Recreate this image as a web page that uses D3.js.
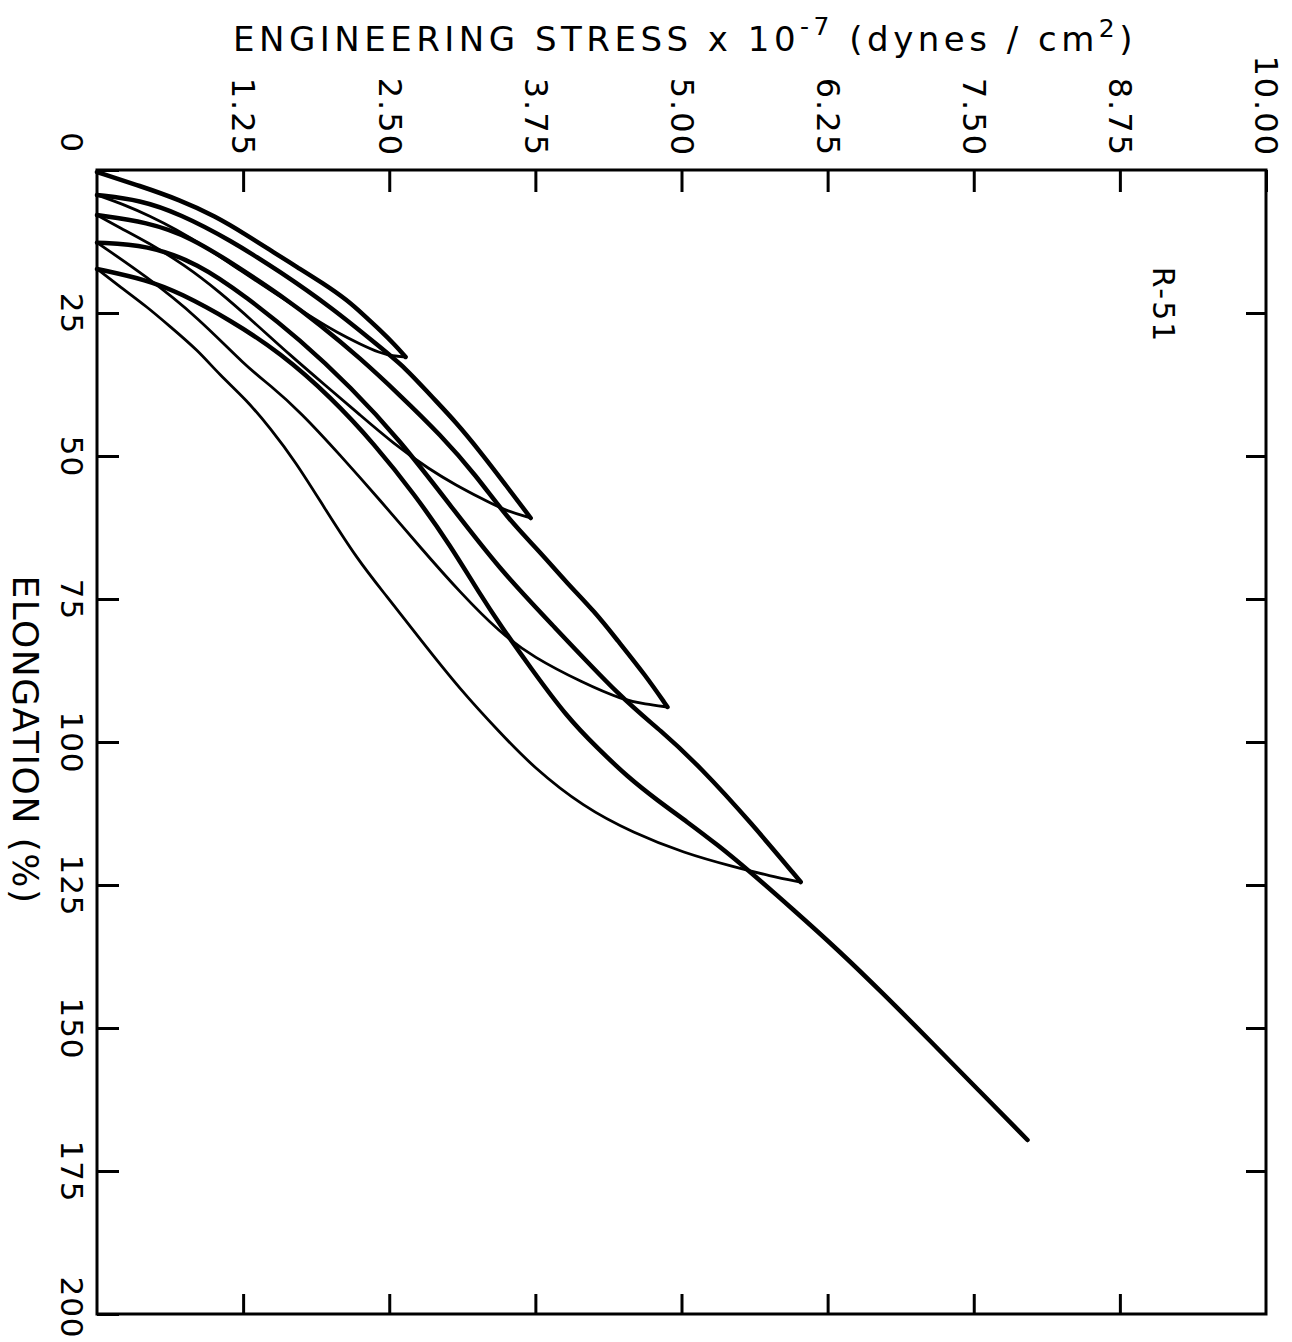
<!DOCTYPE html>
<html>
<head>
<meta charset="utf-8">
<script src="https://cdn.jsdelivr.net/npm/d3@7"></script>
<style>
  body { margin: 0; background: #fff; }
  text { font-family: "DejaVu Sans", sans-serif; fill: #000; }
</style>
</head>
<body>
<div id="chart"></div>
<script>
// tick values / labels
const stressTicks = [1.25, 2.5, 3.75, 5, 6.25, 7.5, 8.75, 10];
const stressLabels = ["1.25", "2.50", "3.75", "5.00", "6.25", "7.50", "8.75", "10.00"];
const elongTicks = [0, 25, 50, 75, 100, 125, 150, 175, 200];

// [stress x 1e-7, elongation %]
const load1 = [[0,0.35],[0.37,2.8],[0.71,5.24],[1.01,8.04],[1.28,11.36],[1.52,14.51],[1.71,16.96],[1.93,19.76],[2.14,22.73],[2.29,25.52],[2.42,27.97],[2.55,30.59],[2.64,32.69]];
const unload1 = [[2.64,32.69],[2.53,32.52],[2.42,31.99],[2.25,30.42],[2.06,28.5],[1.82,25.52],[1.57,22.2],[1.22,17.48],[0.93,13.46],[0.67,10.31],[0.45,8.04],[0.24,6.12],[0,4.37]];
const load2 = [[0,4.37],[0.37,5.24],[0.71,7.69],[1.14,12.24],[1.57,17.83],[2.00,23.95],[2.42,30.94],[2.64,34.62],[2.85,39.34],[3.07,44.06],[3.28,49.30],[3.49,54.90],[3.71,60.84]];
const unload2 = [[3.71,60.84],[3.48,59.44],[3.28,57.34],[3.07,55.07],[2.85,52.45],[2.53,47.73],[2.25,42.83],[1.95,37.59],[1.65,32.34],[1.35,26.75],[1.05,21.33],[0.75,16.61],[0.43,12.59],[0.20,10.14],[0,7.87]];
const load3 = [[0,7.87],[0.43,9.09],[0.80,11.71],[1.22,17.13],[1.57,21.85],[1.91,27.10],[2.25,32.87],[2.59,39.34],[2.94,46.33],[3.24,53.32],[3.51,60.84],[3.79,66.78],[4.02,72.20],[4.26,77.27],[4.45,82.17],[4.69,88.29],[4.88,93.88]];
const unload3 = [[4.88,93.88],[4.69,93.36],[4.50,92.66],[4.16,89.69],[3.73,85.14],[3.45,80.94],[3.11,73.95],[2.77,66.08],[2.42,57.69],[2.08,49.83],[1.74,42.31],[1.48,37.59],[1.28,34.44],[0.86,25.70],[0.43,18.71],[0,12.7]];
const load4 = [[0,12.7],[0.43,13.11],[0.86,16.26],[1.28,22.20],[1.74,29.72],[2.17,37.94],[2.59,47.20],[3.02,58.57],[3.45,69.93],[3.88,79.20],[4.50,92.66],[4.82,97.90],[5.16,104.37],[5.59,113.99],[6.02,124.48]];
const unload4 = [[6.02,124.48],[5.76,123.43],[5.45,121.85],[5.02,119.41],[4.59,115.91],[4.16,111.36],[3.73,104.37],[3.45,98.43],[3.11,90.91],[2.77,82.17],[2.47,74.30],[2.23,68.18],[1.93,58.57],[1.70,51.05],[1.48,45.10],[1.28,40.21],[1.05,35.84],[0.86,31.47],[0.63,27.45],[0.43,23.95],[0.20,20.45],[0,17.3]];
const load5 = [[0,17.3],[0.43,19.23],[0.71,21.50],[1.14,26.22],[1.57,31.99],[2.00,39.69],[2.38,48.08],[2.72,56.82],[3.02,65.56],[3.28,74.30],[3.45,79.55],[3.71,87.06],[4.02,95.63],[4.28,101.05],[4.54,106.12],[4.79,110.14],[5.05,113.99],[5.31,118.01],[5.57,122.38],[5.96,129.37],[6.34,136.36],[6.72,143.88],[7.12,152.10],[7.54,160.84],[7.96,169.58]];

const loading = [load1, load2, load3, load4, load5];
const unloading = [unload1, unload2, unload3, unload4];

const W = 1292, H = 1342;

const svg = d3.select("#chart")
  .append("svg")
  .attr("width", W)
  .attr("height", H);

const x = d3.scaleLinear().domain([0, 10]).range([97, 1266]);
const y = d3.scaleLinear().domain([0, 200]).range([170, 1314]);

// frame
svg.append("rect")
  .attr("x", x(0)).attr("y", y(0))
  .attr("width", x(10) - x(0)).attr("height", y(200) - y(0))
  .attr("fill", "none").attr("stroke", "#000").attr("stroke-width", 3);

// top axis with rotated labels
const topAxis = svg.append("g")
  .attr("transform", `translate(0, ${y(0)})`)
  .call(d3.axisTop(x).tickValues(stressTicks).tickSize(-22)
    .tickFormat((d, i) => stressLabels[i]));
topAxis.select(".domain").remove();
topAxis.selectAll("line").attr("stroke-width", 3);
topAxis.selectAll("text")
  .attr("transform", "rotate(90)")
  .attr("x", -13).attr("y", 0).attr("dy", "0.35em")
  .attr("text-anchor", "end")
  .style("font-size", "32px")
  .style("letter-spacing", "2px");

// bottom axis, ticks only
const botAxis = svg.append("g")
  .attr("transform", `translate(0, ${y(200)})`)
  .call(d3.axisBottom(x).tickValues(stressTicks.slice(0, -1)).tickSize(-20).tickFormat(""));
botAxis.select(".domain").remove();
botAxis.selectAll("line").attr("stroke-width", 3);

// left axis with rotated labels
const leftAxis = svg.append("g")
  .attr("transform", `translate(${x(0)}, 0)`)
  .call(d3.axisLeft(y).tickValues(elongTicks).tickSize(-22).tickFormat(d3.format("d")));
leftAxis.select(".domain").remove();
leftAxis.selectAll("line").attr("stroke-width", 3);
leftAxis.selectAll("text")
  .attr("transform", "rotate(90)")
  .attr("x", d => d === 0 ? -28 : d === 200 ? -7 : 0)
  .attr("y", 25).attr("dy", "0.35em")
  .attr("text-anchor", "middle")
  .style("font-size", "31px")
  .style("letter-spacing", "1px");

// right axis, ticks only
const rightAxis = svg.append("g")
  .attr("transform", `translate(${x(10)}, 0)`)
  .call(d3.axisRight(y).tickValues(elongTicks.slice(1, -1)).tickSize(-20).tickFormat(""));
rightAxis.select(".domain").remove();
rightAxis.selectAll("line").attr("stroke-width", 3);

// curves
const line = d3.line()
  .x(d => x(d[0]))
  .y(d => y(d[1]))
  .curve(d3.curveBasis);

svg.selectAll(".unload")
  .data(unloading)
  .join("path")
  .attr("class", "unload")
  .attr("d", line)
  .attr("fill", "none")
  .attr("stroke", "#000")
  .attr("stroke-width", 2.8)
  .attr("stroke-linejoin", "round");

svg.selectAll(".load")
  .data(loading)
  .join("path")
  .attr("class", "load")
  .attr("d", line)
  .attr("fill", "none")
  .attr("stroke", "#000")
  .attr("stroke-width", 4.5)
  .attr("stroke-linecap", "round")
  .attr("stroke-linejoin", "round");

// title
const title = svg.append("text")
  .attr("x", 233).attr("y", 51)
  .style("font-size", "34px")
  .style("letter-spacing", "4.5px");
title.append("tspan").text("ENGINEERING STRESS x 10");
title.append("tspan").attr("dy", -16).style("font-size", "25px").text("-7");
title.append("tspan").attr("dy", 16).text(" (dynes / cm");
title.append("tspan").attr("dy", -14).style("font-size", "25px").text("2");
title.append("tspan").attr("dy", 14).text(")");

// y label
svg.append("text")
  .attr("transform", "translate(26, 740) rotate(90)")
  .attr("text-anchor", "middle")
  .attr("dy", "0.35em")
  .style("font-size", "36px")
  .style("letter-spacing", "1.5px")
  .text("ELONGATION (%)");

// sample id
svg.append("text")
  .attr("transform", "translate(1163, 305) rotate(90)")
  .attr("text-anchor", "middle")
  .attr("dy", "0.35em")
  .style("font-size", "30px")
  .style("letter-spacing", "2px")
  .text("R-51");
</script>
</body>
</html>
